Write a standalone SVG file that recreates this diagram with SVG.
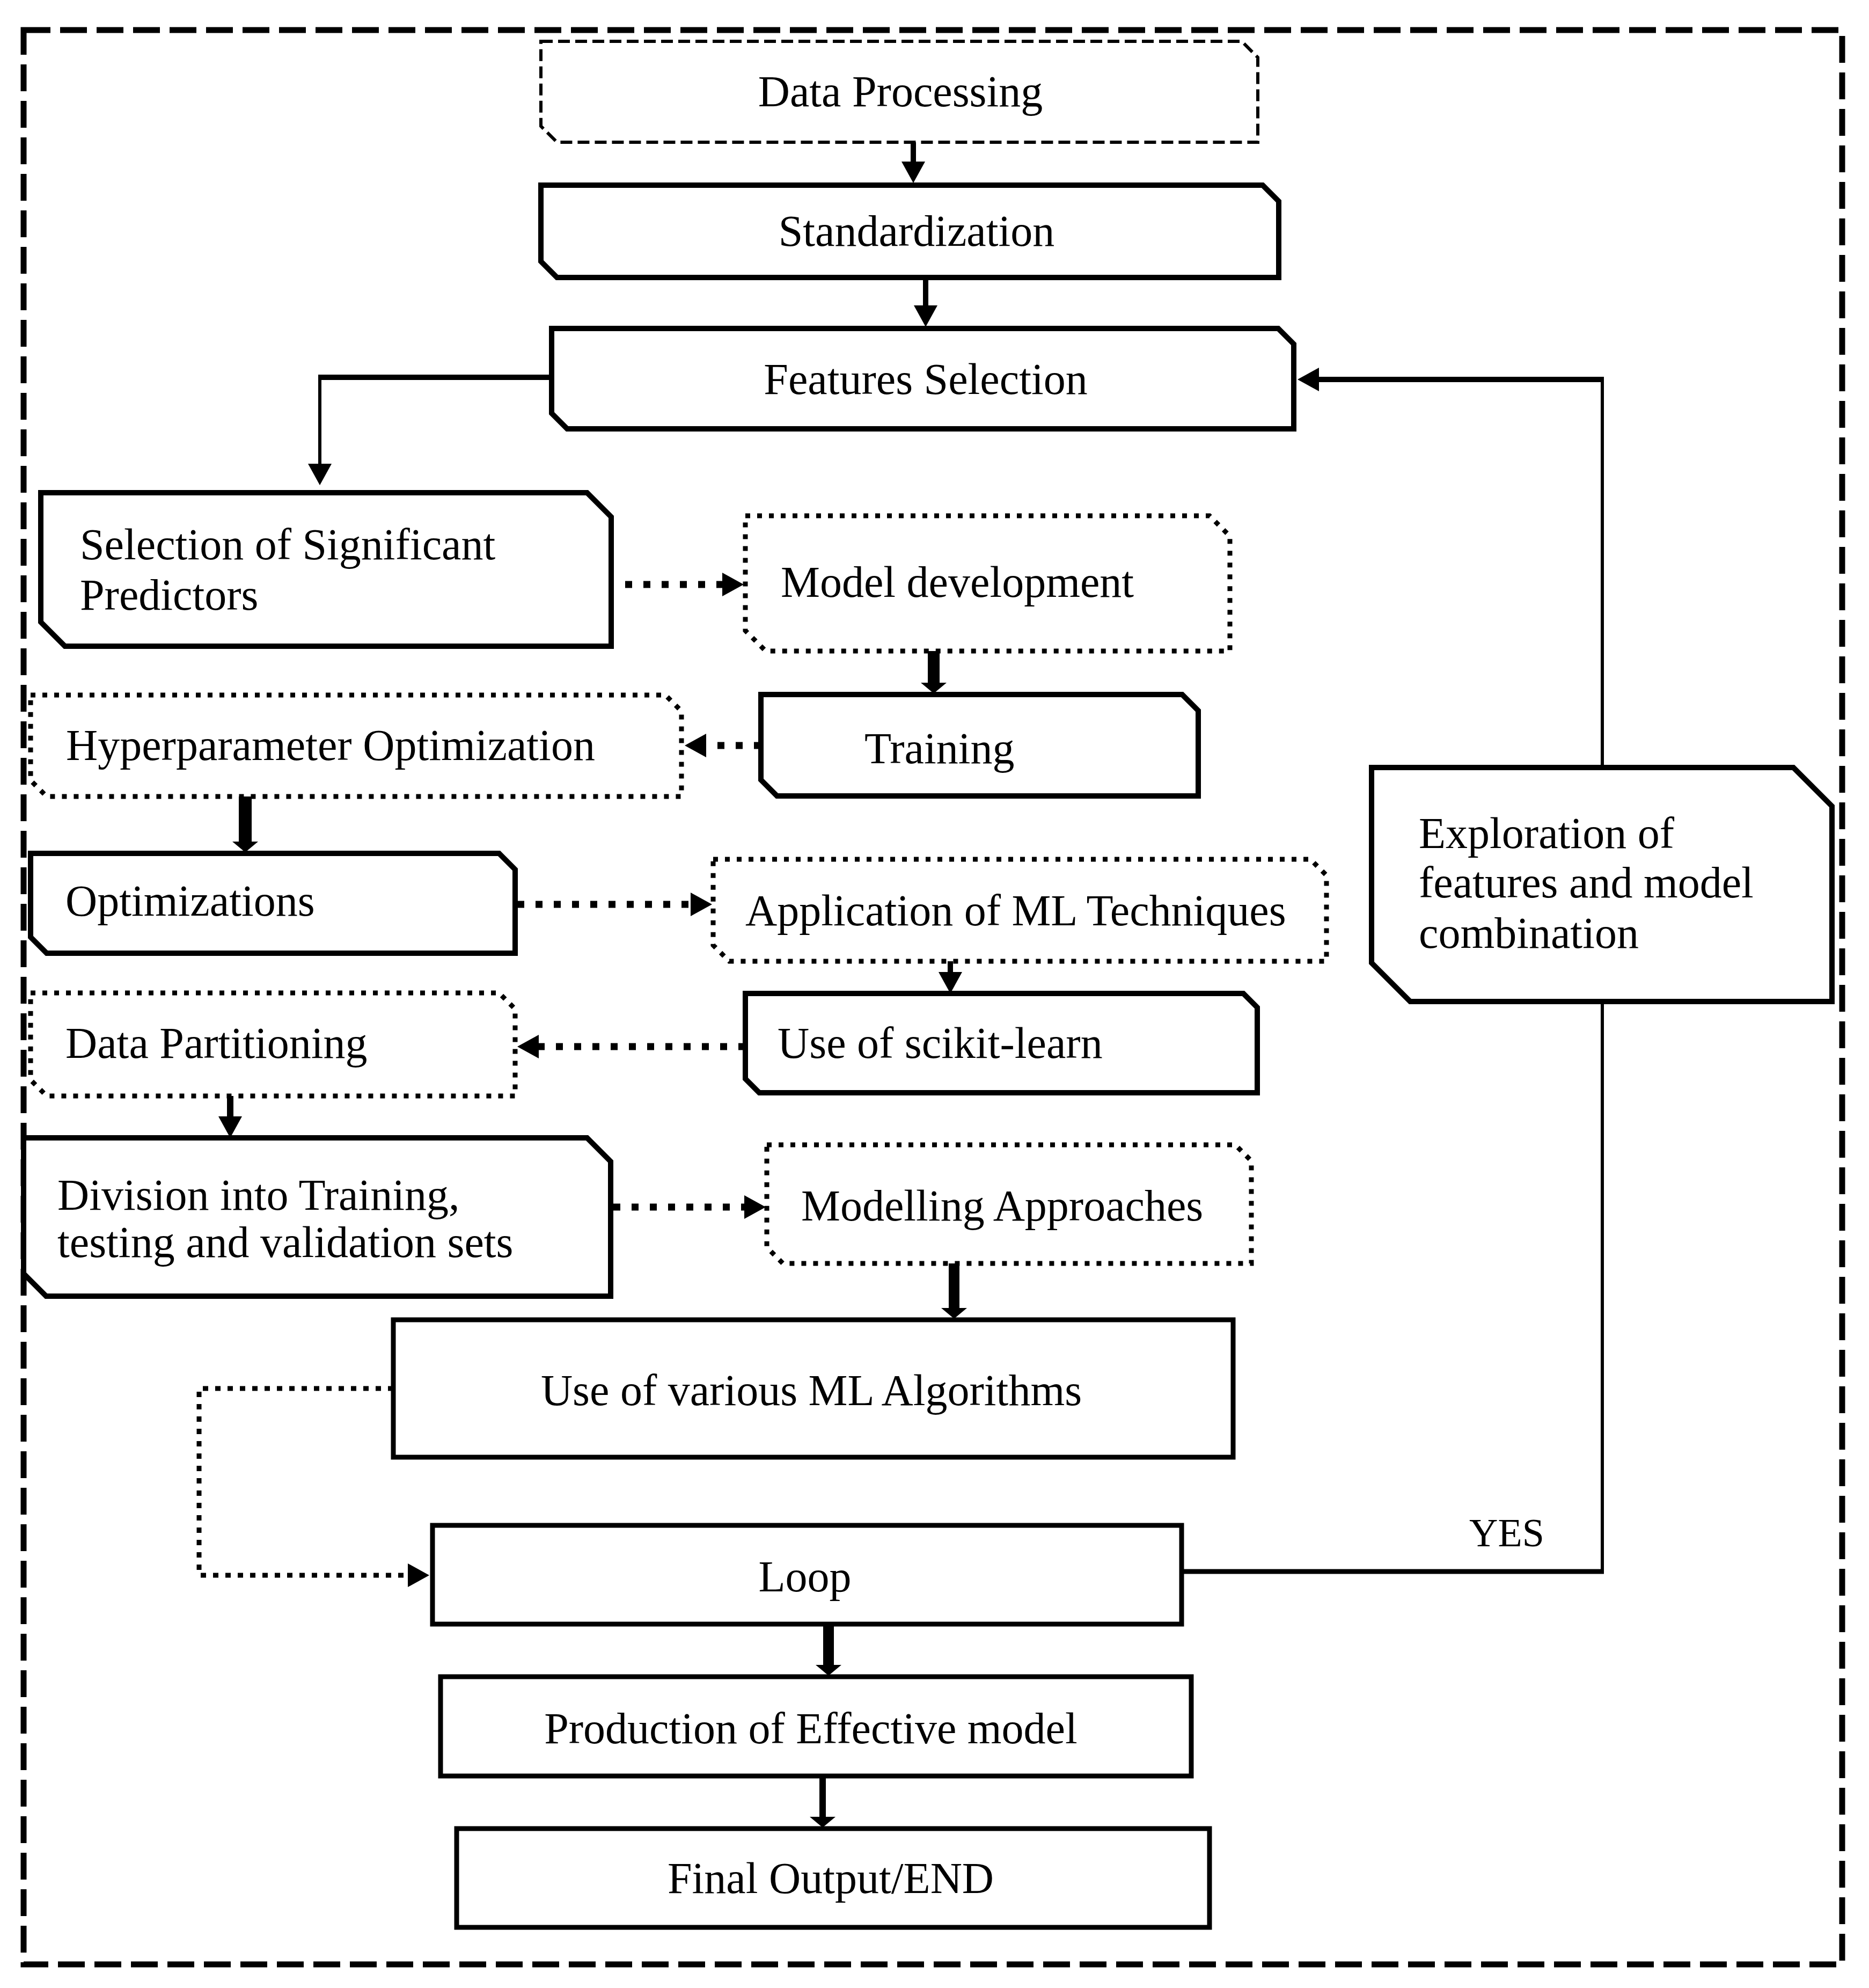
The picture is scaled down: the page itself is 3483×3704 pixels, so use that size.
<svg xmlns="http://www.w3.org/2000/svg" width="3483" height="3704" viewBox="0 0 3483 3704">
<defs>
<style>
.frame{fill:none;stroke:#000;stroke-width:11;stroke-dasharray:50 18}
.b{fill:#fff;stroke:#000;stroke-width:10;stroke-linejoin:miter}
.dash{stroke-width:6;stroke-dasharray:22 10}
.dot{stroke-width:9;stroke-dasharray:9 13}
.r{stroke-width:9}
text{font-family:"Liberation Serif","Times New Roman",serif;font-size:82px;fill:#000}
.c{text-anchor:middle}
.ln{fill:none;stroke:#000;stroke-linejoin:miter}
.dl{stroke-width:13;stroke-dasharray:13 21}
.dt{stroke-width:9;stroke-dasharray:10 13}
</style>
<marker id="ah" markerUnits="userSpaceOnUse" markerWidth="42" markerHeight="46" refX="12" refY="22" orient="auto" overflow="visible">
<path d="M0,0 L40,22 L0,44 Z" fill="#000"/>
</marker>
<marker id="hb" markerUnits="userSpaceOnUse" markerWidth="22" markerHeight="50" refX="2" refY="24" orient="auto" overflow="visible">
<path d="M0,0 L20,24 L0,48 Z" fill="#000"/>
</marker>
</defs>
<rect width="3483" height="3704" fill="#fff"/>
<rect class="frame" x="44" y="56" width="3389" height="3604"/>

<g id="n-data-processing">
<path class="b dash" d="M1008,77 H2314 L2344,107 V265 H1038 L1008,235 Z"/>
<text class="c" x="1678" y="198">Data Processing</text>
</g>
<g id="n-standardization">
<path class="b" d="M1008,345 H2353 L2383,375 V517 H1038 L1008,487 Z"/>
<text class="c" x="1708" y="458">Standardization</text>
</g>
<g id="n-features-selection">
<path class="b" d="M1028,612 H2382 L2411,641 V799 H1057 L1028,770 Z"/>
<text class="c" x="1725" y="734">Features Selection</text>
</g>
<g id="n-selection-predictors">
<path class="b" d="M76,918 H1094 L1139,963 V1204 H121 L76,1159 Z"/>
<text x="149" y="1042">Selection of Significant</text>
<text x="149" y="1136">Predictors</text>
</g>
<g id="n-model-development">
<path class="b dot" d="M1389,961 H2254 L2292,999 V1213 H1427 L1389,1175 Z"/>
<text x="1455" y="1112">Model development</text>
</g>
<g id="n-training">
<path class="b" d="M1418,1294 H2203 L2233,1324 V1483 H1448 L1418,1453 Z"/>
<text x="1611" y="1422">Training</text>
</g>
<g id="n-hyperparameter">
<path class="b dot" d="M57,1295 H1240 L1270,1325 V1484 H87 L57,1454 Z"/>
<text x="123" y="1416">Hyperparameter Optimization</text>
</g>
<g id="n-optimizations">
<path class="b" d="M57,1590 H930 L960,1620 V1776 H87 L57,1746 Z"/>
<text x="122" y="1706">Optimizations</text>
</g>
<g id="n-application">
<path class="b dot" d="M1329,1601 H2442 L2472,1631 V1791 H1359 L1329,1761 Z"/>
<text x="1389" y="1724">Application of ML Techniques</text>
</g>
<g id="n-scikit">
<path class="b" d="M1389,1851 H2317 L2343,1877 V2036 H1415 L1389,2010 Z"/>
<text x="1449" y="1971">Use of scikit-learn</text>
</g>
<g id="n-data-partitioning">
<path class="b dot" d="M57,1850 H930 L960,1880 V2042 H87 L57,2012 Z"/>
<text x="122" y="1971">Data Partitioning</text>
</g>
<g id="n-division">
<path class="b" d="M44,2120 H1094 L1138,2164 V2415 H86 L44,2373 Z"/>
<text x="107" y="2254">Division into Training,</text>
<text x="107" y="2342">testing and validation sets</text>
</g>
<g id="n-modelling">
<path class="b dot" d="M1429,2133 H2302 L2332,2163 V2354 H1459 L1429,2324 Z"/>
<text x="1493" y="2274">Modelling Approaches</text>
</g>
<g id="n-various-ml">
<rect class="b r" x="733" y="2459" width="1565" height="256"/>
<text class="c" x="1512" y="2618">Use of various ML Algorithms</text>
</g>
<g id="n-loop">
<rect class="b r" x="806" y="2842" width="1396" height="184"/>
<text class="c" x="1500" y="2965">Loop</text>
</g>
<g id="n-production">
<rect class="b r" x="821" y="3124" width="1399" height="185"/>
<text class="c" x="1511" y="3248">Production of Effective model</text>
</g>
<g id="n-final">
<rect class="b r" x="851" y="3407" width="1403" height="184"/>
<text class="c" x="1548" y="3527">Final Output/END</text>
</g>
<g id="n-exploration">
<path class="b" d="M2556,1430 H3342 L3414,1502 V1866 H2628 L2556,1794 Z"/>
<text x="2644" y="1580">Exploration of</text>
<text x="2644" y="1672">features and model</text>
<text x="2644" y="1766">combination</text>
</g>

<g id="connectors">
<line class="ln" x1="1702" y1="265" x2="1702" y2="313" stroke-width="10" marker-end="url(#ah)"/>
<line class="ln" x1="1725" y1="517" x2="1725" y2="581" stroke-width="10" marker-end="url(#ah)"/>
<path class="ln" d="M1028,703 H596" stroke-width="10"/>
<path class="ln" d="M596,698 V876" stroke-width="6" marker-end="url(#ah)"/>
<path class="ln" d="M2986,1430 V712" stroke-width="6"/>
<path class="ln" d="M2989,707 H2446" stroke-width="10" marker-end="url(#ah)"/>
<path class="ln" d="M2202,2928 H2989" stroke-width="9"/>
<path class="ln" d="M2986,2932 V1866" stroke-width="6"/>
<line class="ln dl" x1="1165" y1="1089" x2="1358" y2="1089" marker-end="url(#ah)"/>
<line class="ln" x1="1740" y1="1213" x2="1740" y2="1274" stroke-width="22" marker-end="url(#hb)"/>
<line class="ln dl" x1="1418" y1="1389" x2="1304" y2="1389" marker-end="url(#ah)"/>
<line class="ln" x1="457" y1="1484" x2="457" y2="1570" stroke-width="24" marker-end="url(#hb)"/>
<line class="ln dl" x1="964" y1="1685" x2="1299" y2="1685" marker-end="url(#ah)"/>
<line class="ln" x1="1771" y1="1791" x2="1771" y2="1823" stroke-width="10" marker-end="url(#ah)"/>
<line class="ln dl" x1="1389" y1="1950" x2="992" y2="1950" marker-end="url(#ah)"/>
<line class="ln" x1="429" y1="2042" x2="429" y2="2092" stroke-width="12" marker-end="url(#ah)"/>
<line class="ln dl" x1="1143" y1="2249" x2="1399" y2="2249" marker-end="url(#ah)"/>
<line class="ln" x1="1778" y1="2354" x2="1778" y2="2439" stroke-width="20" marker-end="url(#hb)"/>
<path class="ln dt" d="M733,2587 H371 V2935 H772" marker-end="url(#ah)"/>
<line class="ln" x1="1544" y1="3026" x2="1544" y2="3104" stroke-width="20" marker-end="url(#hb)"/>
<line class="ln" x1="1533" y1="3309" x2="1533" y2="3387" stroke-width="12" marker-end="url(#hb)"/>
<text x="2738" y="2881" style="font-size:74px">YES</text>
</g>
</svg>
